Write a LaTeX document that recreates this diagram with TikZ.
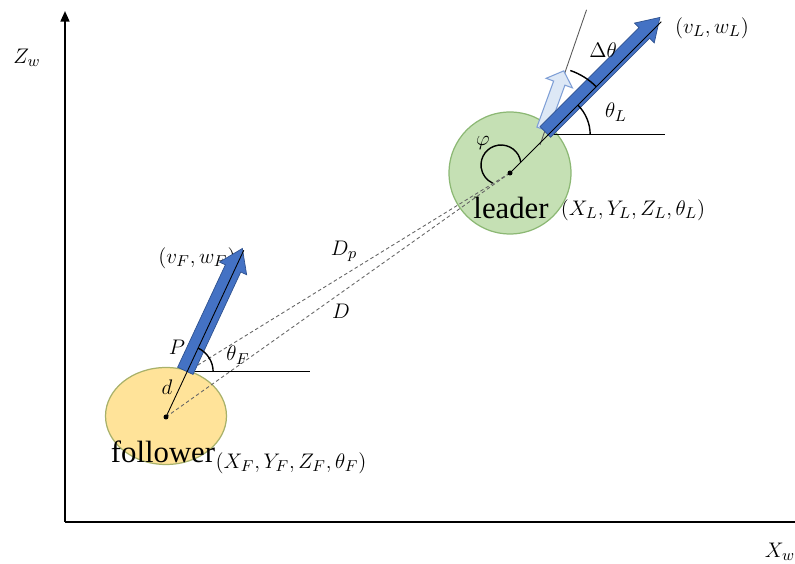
\documentclass[tikz,border=0pt]{standalone}
\usepackage{fontspec}
\setmainfont{Liberation Serif}
\usetikzlibrary{arrows.meta,calc,shapes.geometric}
\definecolor{leadfill}{HTML}{C5E0B4}
\definecolor{leadline}{HTML}{8CB874}
\definecolor{folfill}{HTML}{FFE399}
\definecolor{folline}{HTML}{A8B16A}
\definecolor{arrowblue}{HTML}{4472C4}
\definecolor{arrowedge}{HTML}{2F528F}
\definecolor{ghostfill}{HTML}{DDE8F6}
\definecolor{ghostedge}{HTML}{7F9FD6}
% fat arrow along +x: length, shaft half width, head half width, head length
\newcommand{\fatarrow}[4]{(0,-#2) -- ({#1-#4},-#2) -- ({#1-#4},-#3) -- (#1,0) -- ({#1-#4},#3) -- ({#1-#4},#2) -- (0,#2) -- cycle}
\begin{document}
\begin{tikzpicture}[x=0.02cm,y=0.02cm,every node/.style={font=\fontsize{13}{15}\selectfont,inner sep=1pt},
  body/.style={draw,line width=0.7pt,inner sep=0pt},
  word/.style={font=\fontsize{17.5}{20}\selectfont},
  link/.style={gray!80!black,line width=0.5pt,dash pattern=on 2pt off 1.5pt},
  guide/.style={line width=0.5pt}]
  \useasboundingbox (0,0) rectangle (795,564);
  % axes
  \coordinate (O) at (65,42); \coordinate (ztop) at (65,553); \coordinate (xend) at (797,42);
  \draw[line width=1.2pt,-{Triangle[width=5pt,length=6pt]}] (O) -- (ztop);
  \draw[line width=1.2pt] (O) -- (xend);
  \node (zw) at (27,506) {$Z_w$};
  \node (xw) at (780,12) {$X_w$};
  % robots
  \node[body,ellipse,fill=folfill,draw=folline,minimum width=2.42cm,minimum height=1.94cm] (follower) at (166,148) {};
  \node[body,circle,fill=leadfill,draw=leadline,minimum size=2.44cm] (leader) at (510,391) {};
  \coordinate (lc) at (510,391); \coordinate (fc) at (166,147);
  \coordinate (pL) at ($(lc)+(45:54)$); \coordinate (tL) at ($(lc)+(45:214)$);
  \coordinate (pF) at ($(fc)+(65:50)$); \coordinate (tF) at ($(fc)+(65:184)$);
  \coordinate (hL) at ($(pL)+(117,0)$); \coordinate (hF) at ($(pF)+(123,0)$);
  \coordinate (gA) at (540,419); \coordinate (gB) at ($(gA)+(71:143)$);
  % distances
  \draw[link] (pF) -- (lc);
  \draw[link] (fc) -- (lc);
  \draw[guide] (pL) -- (hL);
  \draw[guide] (pF) -- (hF);
  \draw[guide,gray!70!black] (gA) -- (gB);
  % headings
  \node (vF) at (197,306) {$(v_F,w_F)$};
  \draw[fill=ghostfill,draw=ghostedge,line width=0.6pt,shift={($(pL)+(135:8)$)},rotate=70] \fatarrow{62}{6}{14}{13};
  \draw[fill=arrowblue,draw=arrowedge,line width=0.4pt,shift={($(pL)+(135:4)$)},rotate=45] \fatarrow{162}{7.5}{14}{22};
  \draw[fill=arrowblue,draw=arrowedge,line width=0.4pt,shift={($(pF)+(155:2)$)},rotate=65] \fatarrow{135}{8.5}{15}{22};
  \draw[guide] (lc) -- (tL);
  \draw[guide] (fc) -- (tF);
  % angles
  \draw[line width=0.8pt] (pL) ++(0:42) arc[start angle=0,end angle=45,radius=42];
  \draw[line width=0.8pt] (pL) ++(45:68) arc[start angle=45,end angle=71,radius=68];
  \draw[line width=0.8pt] (pF) ++(0:26) arc[start angle=0,end angle=65,radius=26];
  \draw[line width=0.8pt] ($(lc)+(-9,8)$) ++(8:20) arc[start angle=8,end angle=245,radius=20];
  \fill (lc) circle (2.5); \fill (fc) circle (2.5);
  % labels
  \node (vL) at (712,536) {$(v_L,w_L)$};
  \node (dth) at (603,514) {$\Delta\theta$};
  \node (thL) at (616,452) {$\theta_L$};
  \node (phi) at (483,421) {$\varphi$};
  \node[word] (leadtxt) at (511,356) {leader};
  \node (posL) at (633,354) {$(X_L,Y_L,Z_L,\theta_L)$};
  \node (Dp) at (344,313) {$D_p$};
  \node (D) at (341,253) {$D$};
  \node (P) at (177,217) {$P$};
  \node (d) at (167,177) {$d$};
  \node (thF) at (238,209) {$\theta_F$};
  \node[word] (foltxt) at (163,112) {follower};
  \node (posF) at (291,101) {$(X_F,Y_F,Z_F,\theta_F)$};
\end{tikzpicture}
\end{document}
